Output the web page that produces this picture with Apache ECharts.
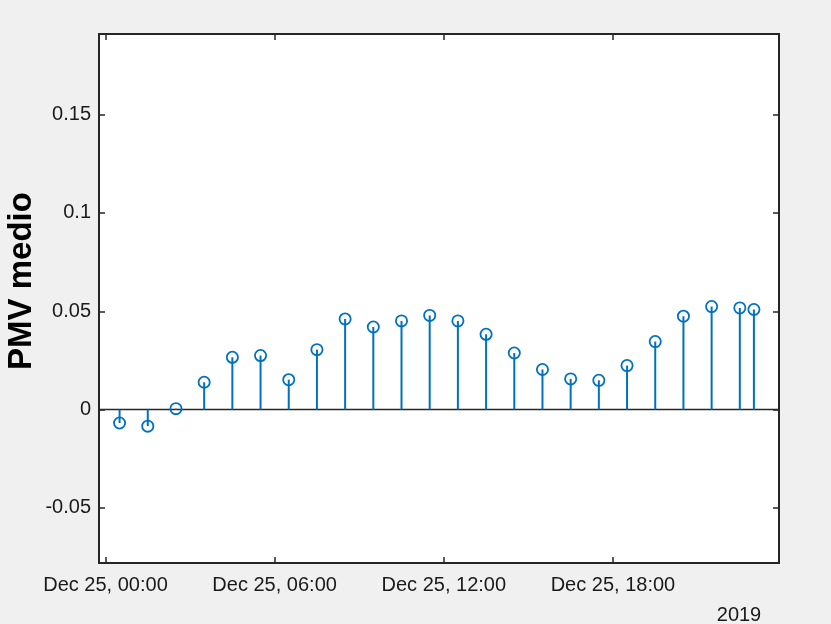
<!DOCTYPE html>
<html>
<head>
<meta charset="utf-8">
<script src="https://cdn.jsdelivr.net/npm/echarts@6/dist/echarts.min.js"></script>
<style>
html,body{margin:0;padding:0;background:#f0f0f0;}
#chart{width:831px;height:624px;}
</style>
</head>
<body>
<div id="chart"></div>
<script>
// hours of Dec 25, 2019
const hours = [0.5,1.5,2.5,3.5,4.5,5.5,6.5,7.5,8.5,9.5,10.5,11.5,12.5,13.5,14.5,15.5,16.5,17.5,18.5,19.5,20.5,21.5,22.5,23];
const pmv = [-0.0068,-0.0084,0.0005,0.0139,0.0266,0.0275,0.0152,0.0305,0.0461,0.0420,0.0451,0.0479,0.0451,0.0383,0.0288,0.0204,0.0156,0.0149,0.0224,0.0346,0.0475,0.0524,0.0517,0.0509];
const xTickHours = [0,6,12,18];
const xTickLabels = ['Dec 25, 00:00','Dec 25, 06:00','Dec 25, 12:00','Dec 25, 18:00'];
const yTicks = [-0.05,0,0.05,0.1,0.15];
const yTickLabels = ['-0.05','0','0.05','0.1','0.15'];
const yearLabel = '2019';
const yName = 'PMV medio';

const XMIN = -0.23, XMAX = 23.89, YMIN = -0.078, YMAX = 0.191;
const axisColor = '#262626';
const textColor = '#1a1a1a';
const font = "'Liberation Sans', Arial, sans-serif";
const stemColor = '#0072BD';

const chart = echarts.init(document.getElementById('chart'), null, {renderer:'canvas'});

function xAxisCfg(pos, showLabel){
  return {
    type:'value', position:pos, min:XMIN, max:XMAX,
    axisLine:{show:false, onZero:false},
    splitLine:{show:false},
    axisTick:{show:true, inside:true, length:6, customValues:xTickHours, lineStyle:{color:axisColor,width:1.5}},
    axisLabel:{show:showLabel, customValues:xTickHours, margin:12, color:textColor, fontFamily:font, fontSize:20,
      formatter:function(v){const i=xTickHours.indexOf(v);return i>=0?xTickLabels[i]:'';}}
  };
}
function yAxisCfg(pos, showLabel){
  return {
    type:'value', position:pos, min:YMIN, max:YMAX,
    axisLine:{show:false, onZero:false},
    splitLine:{show:false},
    axisTick:{show:true, inside:true, length:6, customValues:yTicks, lineStyle:{color:axisColor,width:1.5}},
    axisLabel:{show:showLabel, customValues:yTicks, margin:8, color:textColor, fontFamily:font, fontSize:20,
      formatter:function(v){
        let best=-1,bd=1e9; yTicks.forEach((t,i)=>{const d=Math.abs(t-v); if(d<bd){bd=d;best=i;}});
        return bd<1e-9?yTickLabels[best]:'';}}
  };
}

const option = {
  backgroundColor:'#f0f0f0',
  animation:false,
  grid:{left:99, right:52, top:34, bottom:61, show:true, backgroundColor:'#ffffff', borderColor:axisColor, borderWidth:2},
  xAxis:[xAxisCfg('bottom', true), xAxisCfg('top', false)],
  yAxis:[yAxisCfg('left', true), yAxisCfg('right', false)],
  graphic:[
    {type:'text', x:739, y:615, style:{text:yearLabel, font:"20px " + font, fill:textColor, align:'center', verticalAlign:'middle'}},
    {type:'text', x:22, y:281, rotation:Math.PI/2, style:{text:yName, font:"bold 33px " + font, fill:'#000000', align:'center', verticalAlign:'middle'}}
  ],
  series:[
    {
      type:'line', xAxisIndex:0, yAxisIndex:0, data:[[XMIN,0],[XMAX,0]], symbol:'none', silent:true,
      lineStyle:{color:axisColor, width:1.5}, z:1
    },
    {
      type:'custom', xAxisIndex:0, yAxisIndex:0, z:3,
      data: hours.map((h,i)=>[h,pmv[i]]),
      renderItem:function(params, api){
        const x=api.value(0), y=api.value(1);
        const p0=api.coord([x,0]), p1=api.coord([x,y]);
        return {type:'group', children:[
          {type:'line', shape:{x1:p0[0],y1:p0[1],x2:p1[0],y2:p1[1]}, style:{stroke:stemColor, lineWidth:2}},
          {type:'circle', shape:{cx:p1[0],cy:p1[1],r:5.6}, style:{fill:'rgba(0,0,0,0)', stroke:stemColor, lineWidth:1.8}}
        ]};
      }
    }
  ]
};
chart.setOption(option);
</script>
</body>
</html>
